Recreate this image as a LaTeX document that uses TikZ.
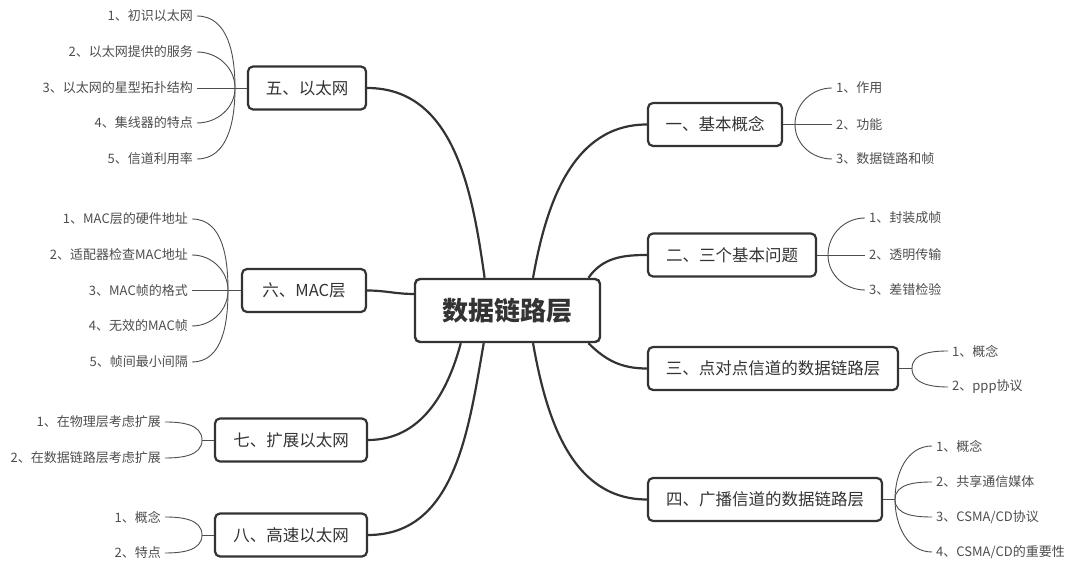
\documentclass[tikz,border=0pt]{standalone}
\usepackage{fontspec}
\setmainfont{Noto Sans CJK SC}
\usetikzlibrary{positioning}
\definecolor{ink}{HTML}{333333}
\definecolor{leafink}{HTML}{4D4D4D}

\tikzset{
  topic/.style={draw=ink,line width=2.2pt,rounded corners=5pt,text=ink,
    font=\fontsize{16.5}{20}\selectfont,minimum height=43pt,inner xsep=0pt},
  leaf/.style={text=leafink,font=\fontsize{13}{15}\selectfont,inner xsep=4pt,inner ysep=2pt},
  branch/.style={draw=ink,line width=2.2pt},
  twig/.style={draw=leafink,line width=0.9pt}
}

\begin{document}
\begin{tikzpicture}[x=1pt,y=1pt]

        \useasboundingbox (0,0) rectangle (1080,575);

        \node[topic,line width=2.4pt,minimum width=185pt,minimum height=63pt,
          font=\fontsize{26}{30}\selectfont\bfseries] (root) at (507.5,264.5) {数据链路层};

        \begin{scope}[every node/.style={topic}]
          \node[minimum width=134pt] (n1) at (715,450.5) {一、基本概念};
          \node[minimum width=168pt] (n2) at (732,320) {二、三个基本问题};
          \node[minimum width=250pt] (n3) at (773,206.5) {三、点对点信道的数据链路层};
          \node[minimum width=234pt] (n4) at (765,75.5) {四、广播信道的数据链路层};
          \node[minimum width=118pt] (n5) at (307,487) {五、以太网};
          \node[minimum width=124pt] (n6) at (304,284.5) {六、MAC层};
          \node[minimum width=152pt] (n7) at (291,135) {七、扩展以太网};
          \node[minimum width=152pt] (n8) at (291,40) {八、高速以太网};
        \end{scope}

        \coordinate (j1) at (795,450.5);
        \coordinate (j2) at (828,320);
        \coordinate (j3) at (912,206.5);
        \coordinate (j4) at (895,75.5);
        \coordinate (j5) at (235,487);
        \coordinate (j6) at (228,284.5);
        \coordinate (j7) at (202,135);
        \coordinate (j8) at (202,40);

        \begin{scope}[every node/.style={leaf,anchor=west}]
          \node (c11) at (832,487)   {1、作用};
          \node (c12) at (832,450.5) {2、功能};
          \node (c13) at (832,416)   {3、数据链路和帧};
          \node (c21) at (865,357)   {1、封装成帧};
          \node (c22) at (865,320)   {2、透明传输};
          \node (c23) at (865,285)   {3、差错检验};
          \node (c31) at (948,224)   {1、概念};
          \node (c32) at (948,188)   {2、ppp协议};
          \node (c41) at (932,129)   {1、概念};
          \node (c42) at (932,93)    {2、共享通信媒体};
          \node (c43) at (932,58)    {3、CSMA/CD协议};
          \node (c44) at (932,23)    {4、CSMA/CD的重要性};
        \end{scope}

        \begin{scope}[every node/.style={leaf,anchor=east}]
          \node (c51) at (197,559)   {1、初识以太网};
          \node (c52) at (197,523)   {2、以太网提供的服务};
          \node (c53) at (197,487)   {3、以太网的星型拓扑结构};
          \node (c54) at (197,452)   {4、集线器的特点};
          \node (c55) at (197,416)   {5、信道利用率};
          \node (c61) at (192,356)   {1、MAC层的硬件地址};
          \node (c62) at (192,320)   {2、适配器检查MAC地址};
          \node (c63) at (192,284.5) {3、MAC帧的格式};
          \node (c64) at (192,249)   {4、无效的MAC帧};
          \node (c65) at (192,213)   {5、帧间最小间隔};
          \node (c71) at (165,153)   {1、在物理层考虑扩展};
          \node (c72) at (165,117)   {2、在数据链路层考虑扩展};
          \node (c81) at (165,58)    {1、概念};
          \node (c82) at (165,22)    {2、特点};
        \end{scope}

        % main branches
        \begin{scope}[every path/.style={branch}]
          \path (n1.west) edge[out=180,in=80] (root.52);
          \path (n2.west) edge[out=180,in=55] (root.22);
          \path (n3.west) edge[out=180,in=-45] (root.338);
          \path (n4.west) edge[out=180,in=-80] (root.308);
          \path (n5.east) edge[out=0,in=98] (root.125);
          \path (n6.east) edge[out=0,in=180] (root.170);
          \path (n7.east) edge[out=0,in=-105] (root.215);
          \path (n8.east) edge[out=0,in=-100] (root.234);
        \end{scope}

        % sub topics
        \begin{scope}[every path/.style={twig}]
          \path (n1.east) edge (j1) (j1) edge[out=90,in=180] (c11.west)
            (j1) edge (c12.west) (j1) edge[out=-90,in=180] (c13.west);
          \path (n2.east) edge (j2) (j2) edge[out=90,in=180] (c21.west)
            (j2) edge (c22.west) (j2) edge[out=-90,in=180] (c23.west);
          \path (n3.east) edge (j3) (j3) edge[out=90,in=180] (c31.west)
            (j3) edge[out=-90,in=180] (c32.west);
          \path (n4.east) edge (j4) (j4) edge[out=90,in=180] (c41.west)
            (j4) edge[out=90,in=180] (c42.west)
            (j4) edge[out=-90,in=180] (c43.west) (j4) edge[out=-90,in=180] (c44.west);
          \path (n5.west) edge (j5) (j5) edge[out=90,in=0] (c51.east)
            (j5) edge[out=90,in=0] (c52.east) (j5) edge (c53.east)
            (j5) edge[out=-90,in=0] (c54.east) (j5) edge[out=-90,in=0] (c55.east);
          \path (n6.west) edge (j6) (j6) edge[out=90,in=0] (c61.east)
            (j6) edge[out=90,in=0] (c62.east) (j6) edge (c63.east)
            (j6) edge[out=-90,in=0] (c64.east) (j6) edge[out=-90,in=0] (c65.east);
          \path (n7.west) edge (j7) (j7) edge[out=90,in=0] (c71.east)
            (j7) edge[out=-90,in=0] (c72.east);
          \path (n8.west) edge (j8) (j8) edge[out=90,in=0] (c81.east)
            (j8) edge[out=-90,in=0] (c82.east);
        \end{scope}

      \end{tikzpicture}
\end{document}
